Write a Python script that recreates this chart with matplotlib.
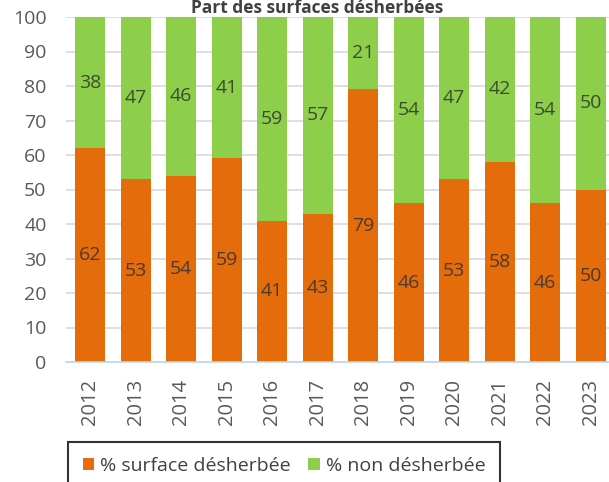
import numpy as np
import matplotlib.pyplot as plt

plt.rcParams["font.family"] = ["Open Sans", "DejaVu Sans"]

years = ["2012", "2013", "2014", "2015", "2016", "2017", "2018", "2019", "2020", "2021", "2022", "2023"]
desherbee = [62, 53, 54, 59, 41, 43, 79, 46, 53, 58, 46, 50]
non_desherbee = [38, 47, 46, 41, 59, 57, 21, 54, 47, 42, 54, 50]

ORANGE = "#E46C0A"
GREEN = "#8DCF4B"

fig = plt.figure(figsize=(6.09, 4.82), dpi=100)
ax = fig.add_axes([66 / 609, 1 - 362 / 482, 543 / 609, 345 / 482])

x = np.arange(len(years))
w = 0.66
b1 = ax.bar(x, desherbee, w, color=ORANGE, label="% surface désherbée", zorder=2)
b2 = ax.bar(x, non_desherbee, w, bottom=desherbee, color=GREEN, label="% non désherbée", zorder=2)

for xi, d, n in zip(x, desherbee, non_desherbee):
    ax.text(xi, d / 2, str(d), ha="center", va="center", fontsize=14, color="#4a3a30", zorder=3)
    ax.text(xi, d + n / 2, str(n), ha="center", va="center", fontsize=14, color="#3e4a30", zorder=3)

ax.set_ylim(0, 100)
ax.set_xlim(-0.53, 11.4)
ax.set_yticks(range(0, 101, 10))
ax.set_xticks(x)
ax.set_xticklabels(years, rotation=90)
ax.tick_params(axis="y", length=0, labelsize=14, colors="#595959", pad=14)
ax.tick_params(axis="x", length=0, labelsize=14.5, colors="#595959", pad=12)
ax.yaxis.grid(True, color="#d9d9d9", linewidth=1.2, zorder=0)
for s in ["top", "right", "left"]:
    ax.spines[s].set_visible(False)
ax.spines["bottom"].set_color("#bdd7ee")
ax.spines["bottom"].set_linewidth(1.2)

fig.text(0.52, 0.984, "Part des surfaces désherbées", ha="center", va="center",
         fontsize=12.5, fontweight="bold", color="#404040")

leg = fig.legend(handles=[b1, b2], loc="upper left", bbox_to_anchor=(68 / 609, 1 - 442 / 482),
                 ncol=2, frameon=True, fontsize=14, handlelength=0.6, handleheight=0.6,
                 handletextpad=0.3, columnspacing=0.9, borderpad=0.75, borderaxespad=0, fancybox=False)
leg.get_frame().set_edgecolor("black")
leg.get_frame().set_linewidth(1.5)
for t in leg.get_texts():
    t.set_color("#404040")

fig.savefig("out.png", dpi=100)
